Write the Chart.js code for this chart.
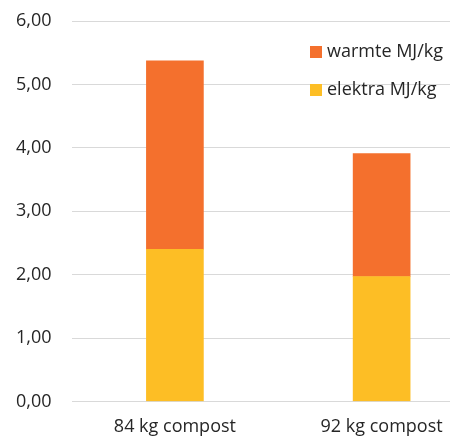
<!DOCTYPE html>
<html>
<head>
<meta charset="utf-8">
<script src="https://cdn.jsdelivr.net/npm/chart.js@4/dist/chart.umd.min.js"></script>
<style>
  html, body { margin: 0; padding: 0; background: #ffffff; overflow: hidden; }
  #wrap { position: relative; width: 485px; height: 437px; }
</style>
</head>
<body>
<div id="wrap"><canvas id="c"></canvas></div>
<script>
const categories = ['84 kg compost', '92 kg compost'];
const elektra = [2.40, 1.97];
const warmte = [2.97, 1.94];
const seriesNames = ['elektra MJ/kg', 'warmte MJ/kg'];
const yTicks = [0, 1, 2, 3, 4, 5, 6];

const FONT = "'Open Sans', 'Liberation Sans', sans-serif";

// Legend drawn in the top-right corner of the plot, warmte listed first
const cornerLegend = {
  id: 'cornerLegend',
  afterDraw(chart) {
    const ctx = chart.ctx;
    const ds = chart.data.datasets.slice().reverse();
    ctx.save();
    ctx.font = '18px ' + FONT;
    ctx.textBaseline = 'middle';
    ctx.textAlign = 'left';
    ds.forEach((d, i) => {
      const y = 52 + i * 38;
      ctx.fillStyle = d.backgroundColor;
      ctx.fillRect(310, y - 6, 12, 12);
      ctx.fillStyle = '#262626';
      ctx.fillText(d.label, 327, y);
    });
    ctx.restore();
  }
};

new Chart(document.getElementById('c'), {
  type: 'bar',
  data: {
    labels: categories,
    datasets: [
      { label: seriesNames[0], data: elektra, backgroundColor: '#FDBE25' },
      { label: seriesNames[1], data: warmte, backgroundColor: '#F4702D' }
    ]
  },
  options: {
    responsive: true,
    maintainAspectRatio: false,
    animation: false,
    layout: { padding: { top: 21, left: -4, right: 0, bottom: -16 } },
    plugins: { legend: { display: false }, tooltip: { enabled: false } },
    datasets: { bar: { barThickness: 57 } },
    scales: {
      x: {
        stacked: true,
        grid: { display: false, drawTicks: false },
        border: { display: false },
        ticks: { color: '#262626', font: { family: FONT, size: 18 }, padding: 15 },
        afterFit(axis) { axis.paddingLeft = 0; axis.paddingRight = 0; }
      },
      y: {
        stacked: true,
        min: 0,
        max: 6,
        afterBuildTicks(axis) { axis.ticks = yTicks.map(v => ({ value: v })); },
        grid: { color: '#d9d9d9', drawTicks: false },
        border: { display: false },
        ticks: {
          color: '#262626',
          font: { family: FONT, size: 18 },
          padding: 20,
          callback: v => v.toFixed(2).replace('.', ',')
        },
        afterFit(axis) { axis.paddingTop = 0; axis.paddingBottom = 0; }
      }
    }
  },
  plugins: [cornerLegend]
});
</script>
</body>
</html>
